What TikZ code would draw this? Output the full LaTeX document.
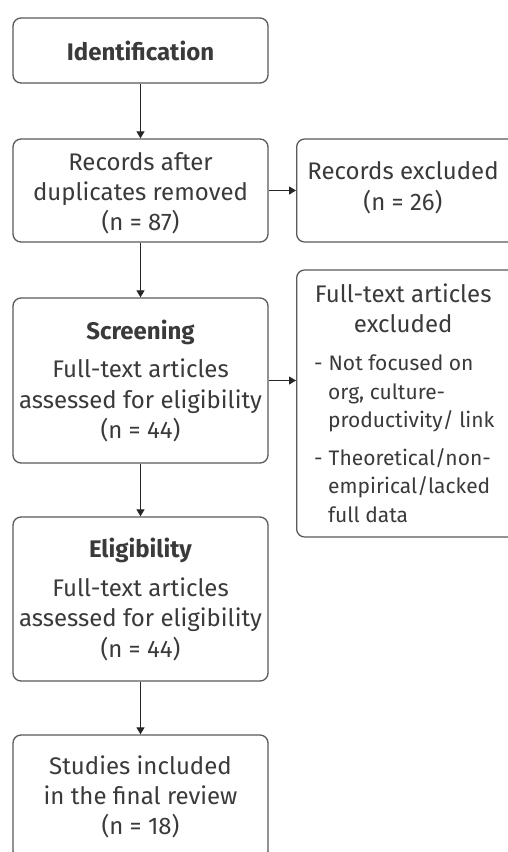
\documentclass[tikz,border=0pt]{standalone}
\usepackage{fontspec}
\setmainfont{Fira Sans}
\usetikzlibrary{arrows.meta}
\definecolor{bordc}{HTML}{5A5A5A}
\definecolor{txtc}{HTML}{3A3A3A}
\begin{document}
\begin{tikzpicture}[x=1pt,y=-1pt,
  box/.style={draw=bordc,line width=1.3pt,rounded corners=8pt,fill=white,
    text=txtc,align=center,inner sep=0pt,
    font=\fontsize{24}{30}\selectfont},
  txt/.style={text=txtc,align=center,inner sep=0pt,font=\fontsize{24}{30}\selectfont},
  arr/.style={draw=black!85,line width=1.1pt,-{Triangle[width=8pt,length=7pt]}}]
\useasboundingbox[fill=white] (0,0) rectangle (507,852);
\node[box,minimum width=255pt,minimum height=65pt] (ident) at (140.5,50.5) {\bfseries Identification};
\node[box,minimum width=255pt,minimum height=103pt] (rec) at (140.5,190.5) {};
\node[txt] (rectxt) at (140.5,193) {Records after\\duplicates removed\\(n = 87)};
\node[box,minimum width=220pt,minimum height=103pt,anchor=west] (excl) at (296,190.5) {};
\node[txt,font=\fontsize{24}{31}\selectfont] (excltxt) at (403,187.5) {Records excluded\\(n = 26)};
\node[box,minimum width=255pt,minimum height=165pt] (screen) at (140.5,380.5) {};
\node[txt,font=\fontsize{24}{30.5}\selectfont] (screentxt) at (140.5,381) {\bfseries Screening\\[8.5pt]Full-text articles\\assessed for eligibility\\(n = 44)};
\node[box,minimum width=220pt,minimum height=267pt,anchor=west] (ftex) at (296,403.5) {};
\node[text=txtc,align=left,anchor=north west,inner sep=0pt,font=\fontsize{21}{28.5}\selectfont] (ftextxt) at (314,284) {%
  \makebox[178pt][c]{\fontsize{24}{29}\selectfont Full-text articles}\\[1pt]
  \makebox[178pt][c]{\fontsize{24}{29}\selectfont excluded}\\[10pt]
  -\hspace{6pt}Not focused on\\
  \hspace{14pt}org, culture-\\
  \hspace{14pt}productivity/ link\\[9pt]
  -\hspace{6pt}Theoretical/non-\\
  \hspace{14pt}empirical/lacked\\
  \hspace{14pt}full data};
\node[box,minimum width=255pt,minimum height=164pt] (elig) at (140.5,599) {};
\node[txt,font=\fontsize{24}{30.5}\selectfont] (eligtxt) at (140.5,599) {\bfseries Eligibility\\[8.5pt]Full-text articles\\assessed for eligibility\\(n = 44)};
\node[box,minimum width=255pt,minimum height=124pt] (stud) at (140.5,797) {Studies included\\in the final review\\(n = 18)};
\draw[arr] (ident.south) -- (rec.north);
\draw[arr] (rec.east) -- (excl.west);
\draw[arr] (rec.south) -- (screen.north);
\draw[arr] (screen.east) -- (screen.east -| ftex.west);
\draw[arr] (screen.south) -- (elig.north);
\draw[arr] (elig.south) -- (stud.north);
\end{tikzpicture}
\end{document}
